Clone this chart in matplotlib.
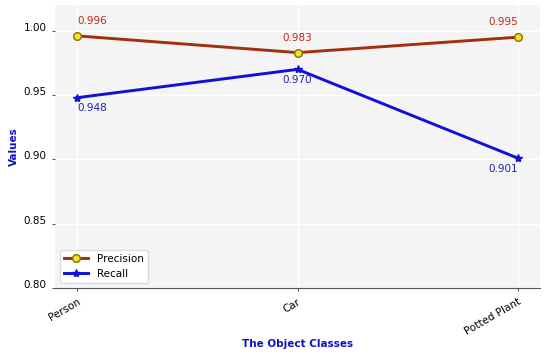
import matplotlib.pyplot as plt
from matplotlib.transforms import ScaledTranslation

# data
classes = ['Person', 'Car', 'Potted Plant']
precision = [0.996, 0.983, 0.995]
recall = [0.948, 0.970, 0.901]

fig, ax = plt.subplots(figsize=(5.5, 3.55), dpi=100)
fig.subplots_adjust(left=0.1, right=0.982, top=0.986, bottom=0.188)

ax.set_facecolor('#f4f4f4')
ax.grid(True, color='white', linewidth=1.0)
ax.set_axisbelow(True)

x = list(range(len(classes)))
ax.plot(x, precision, color='#a0300f', linewidth=2.1, marker='o',
        markersize=5.5, markerfacecolor='#f5e02a', markeredgecolor='#8a6d00',
        label='Precision')
ax.plot(x, recall, color='#1010d8', linewidth=2.1, marker='*',
        markersize=6, label='Recall')

# value labels, kept inside the axes at the ends
aligns = ['left', 'center', 'right']
for xi, v, ha in zip(x, precision, aligns):
    ax.annotate(f'{v:.3f}', (xi, v), xytext=(0, 7), textcoords='offset points',
                ha=ha, va='bottom', color='#c0281a', fontsize=7.5)
for xi, v, ha in zip(x, recall, aligns):
    ax.annotate(f'{v:.3f}', (xi, v), xytext=(0, -4), textcoords='offset points',
                ha=ha, va='top', color='#2020b0', fontsize=7.5)

ax.set_xlim(-0.1, 2.1)
ax.set_ylim(0.8, 1.02)
ax.set_yticks([0.80, 0.85, 0.90, 0.95, 1.00])
ax.set_xticks(x)
ax.set_xticklabels(classes, rotation=30, ha='right', rotation_mode='anchor')
ax.tick_params(labelsize=7.5, length=2.5, color='#555555')

# y tick labels sit a little above their ticks in the original
shift = ScaledTranslation(0, 3 / 72, fig.dpi_scale_trans)
for lbl in ax.get_yticklabels():
    lbl.set_transform(lbl.get_transform() + shift)

for s in ['top', 'right', 'left']:
    ax.spines[s].set_visible(False)
ax.spines['bottom'].set_color('#555555')

ax.set_xlabel('The Object Classes', color='#1010c8', fontweight='bold', fontsize=7.5)
ax.set_ylabel('Values', color='#1010c8', fontweight='bold', fontsize=7.5)
ax.xaxis.set_label_coords(0.5, -0.18)
ax.yaxis.set_label_coords(-0.075, 0.5)

ax.legend(loc='lower left', fontsize=7.5, framealpha=1, edgecolor='#dddddd',
          borderpad=0.4, handlelength=2.3, bbox_to_anchor=(0.0, 0.0))

fig.savefig('out.png')
